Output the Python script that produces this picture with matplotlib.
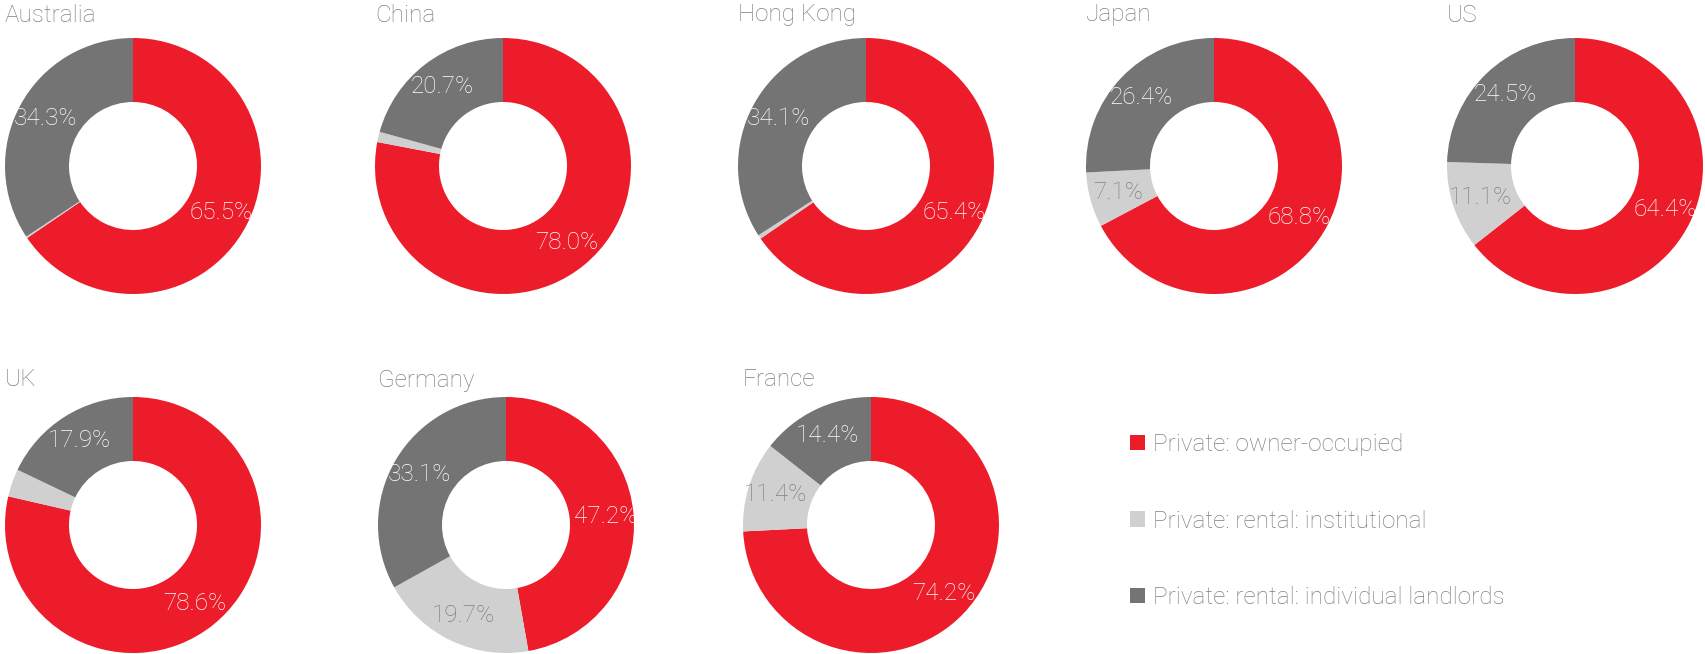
import matplotlib
matplotlib.use("Agg")
import matplotlib.pyplot as plt
from matplotlib.patches import Patch

# Datos
paises = ["Australia", "China", "Hong Kong", "Japan", "US", "UK", "Germany", "France"]
owner_occupied = [65.5, 78.0, 65.4, 68.8, 64.4, 78.6, 47.2, 74.2]
rental_institutional = [0.2, 1.3, 0.5, 7.1, 11.1, 3.5, 19.7, 11.4]
rental_individual = [34.3, 20.7, 34.1, 26.4, 24.5, 17.9, 33.1, 14.4]
categorias = ["Private: owner-occupied", "Private: rental: institutional",
              "Private: rental: individual landlords"]

colores = ["#ED1C2A", "#D0D0D0", "#747474"]
color_texto = ["white", "#7F7F7F", "white"]
gris = "#808080"

plt.rcParams["font.family"] = ["Roboto", "DejaVu Sans"]

W, H = 1705, 654
fig = plt.figure(figsize=(W / 100, H / 100), dpi=100)

# centros (px) y radio de cada dona
centros = [(133, 166), (503, 166), (866, 166), (1214, 166), (1575, 166),
           (133, 525), (506, 525), (871, 525)]
radio = 128
y_titulo = [15, 15, 15, 15, 15, 380, 380, 380]

for i, pais in enumerate(paises):
    cx, cy = centros[i]
    ax = fig.add_axes([(cx - radio) / W, 1 - (cy + radio) / H,
                       2 * radio / W, 2 * radio / H])
    valores = [owner_occupied[i], rental_institutional[i], rental_individual[i]]
    wedges, textos, autotextos = ax.pie(
        valores, colors=colores, startangle=90, counterclock=False,
        radius=1, autopct="%1.1f%%", pctdistance=0.78,
        wedgeprops=dict(width=0.5, linewidth=0))
    # poner el valor original y ocultar los segmentos muy chicos
    for j, t in enumerate(autotextos):
        if valores[j] < 5:
            t.set_text("")
        else:
            t.set_text(f"{valores[j]:.1f}%")
        t.set_color(color_texto[j])
        t.set_fontsize(17.5)
        t.set_fontweight("light")
    ax.set_xlim(-1, 1)
    ax.set_ylim(-1, 1)
    ax.set_aspect("equal")
    ax.axis("off")

    fig.text((cx - radio) / W, 1 - y_titulo[i] / H, pais, color=gris,
             fontsize=17.5, fontweight="light", ha="left", va="center")

# Leyenda
handles = [Patch(facecolor=c, edgecolor="none") for c in colores]
fig.legend(handles, categorias, loc="center left",
           bbox_to_anchor=(1118 / W, 1 - 521 / H), frameon=False,
           labelcolor=gris, handlelength=0.6, handleheight=0.6,
           handletextpad=0.35, labelspacing=2.2, borderpad=0,
           prop=dict(weight="light", size=17.5))

plt.savefig("out.png", dpi=100)
